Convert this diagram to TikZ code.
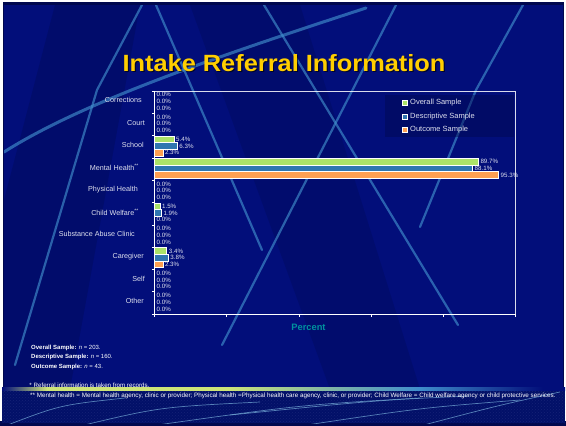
\documentclass[tikz,border=0pt]{standalone}
\usepackage[table]{xcolor}
\usepackage{tikz}
\usetikzlibrary{backgrounds,calc,patterns}
\usepackage{fontspec}
\setmainfont{Liberation Sans}
\newfontfamily\titlefont[FakeStretch=1.08]{Liberation Sans}

\definecolor{slideblue}{RGB}{2,14,122}
\definecolor{slidedark}{RGB}{0,8,78}
\definecolor{footblue}{RGB}{2,16,104}
\definecolor{streak}{RGB}{64,142,204}
\definecolor{titlegold}{RGB}{255,206,0}
\definecolor{barA}{RGB}{172,226,104}
\definecolor{barB}{RGB}{48,118,176}
\definecolor{barC}{RGB}{255,160,82}
\definecolor{labgray}{RGB}{222,224,238}
\definecolor{pctteal}{RGB}{0,146,158}
\definecolor{limeline}{RGB}{205,228,120}

\pgfdeclarehorizontalshading{footline}{100bp}{color(0bp)=(slideblue); color(25bp)=(slideblue); color(29bp)=(limeline); color(45bp)=(limeline); color(62bp)=(streak); color(73bp)=(slideblue); color(100bp)=(slideblue)}

\begin{document}
\begin{tikzpicture}[x=1pt,y=-1pt,
  catlabel/.style={anchor=east,text=labgray,font=\fontsize{7.2}{8}\selectfont,inner sep=0pt},
  vallabel/.style={anchor=west,text=labgray,font=\fontsize{6.2}{7}\selectfont,inner sep=0pt},
  legtext/.style={anchor=west,text=labgray,font=\fontsize{7.5}{8}\selectfont,inner sep=0pt},
  notetext/.style={anchor=west,text=white,font=\fontsize{6}{7}\selectfont,inner sep=0pt},
  barbox/.style={draw=white,line width=0.6pt},
  streakline/.style={draw=streak,line width=2.2pt,opacity=0.65,line cap=round},
  footstreak/.style={draw=streak!70!white,line width=0.7pt,opacity=0.7}]
\useasboundingbox (0,0) rectangle (566,426);
\fill[white] (0,0) rectangle (566,426);
\fill[slidedark] (3,2) rectangle (564,389);
\fill[slideblue] (4,5) rectangle (563,389);

\begin{scope}
\clip (4,5) rectangle (563,389);
\fill[black,opacity=0.12] (55,5) -- (140,5) -- (70,389) -- (4,389) -- (4,200) -- cycle;
\fill[black,opacity=0.10] (190,5) -- (300,5) -- (420,389) -- (330,389) -- cycle;
\draw[streakline,line width=3pt] (4,152) .. controls (80,104) and (200,62) .. (366,8);
\draw[streakline] (142,5) -- (97,90) -- (15,365);
\draw[streakline] (156,5) -- (262,250);
\draw[streakline] (264,5) -- (458,325);
\draw[streakline] (396,5) -- (222,345);
\draw[streakline] (523,5) -- (476,90) -- (420,227);
\end{scope}

\fill[slidedark] (0,421) rectangle (566,426);
\fill[footblue] (2,389) rectangle (565,423);
\begin{scope}
\clip (2,389) rectangle (565,423);
\fill[pattern=crosshatch dots,pattern color=slideblue!70!white,opacity=0.25] (2,389) rectangle (565,423);
\draw[footstreak] (5,426) .. controls (60,405) .. (125,398);
\draw[footstreak] (80,426) .. controls (160,407) .. (260,402);
\draw[footstreak] (150,426) .. controls (300,405) .. (420,398);
\draw[footstreak] (300,426) .. controls (420,408) .. (520,400);
\draw[footstreak] (420,426) .. controls (500,405) .. (560,392);
\draw[footstreak] (230,415) .. controls (380,400) .. (470,396);
\end{scope}
\shade[shading=footline] (2,387.8) rectangle (565,390.6);

\node[text=black,opacity=0.6,anchor=base,font=\fontsize{23.5}{25}\titlefont\bfseries] (titleshadow) at (285.2,72.9) {Intake Referral Information};
\node[text=titlegold,anchor=base,font=\fontsize{23.5}{25}\titlefont\bfseries] (title) at (284,71.7) {Intake Referral Information};

\fill[slidedark,opacity=0.45] (385,95) rectangle (514,137);
\foreach \lab/\col/\yy [count=\k] in {Overall Sample/barA/102.7,Descriptive Sample/barB/116.3,Outcome Sample/barC/129.3}
{
  \draw[white,fill=\col,line width=0.5pt] (402,\yy-2.5) rectangle (407,\yy+2.5);
  \node[legtext] (leg\k) at (410,\yy) {\lab};
}

\foreach \lab/\xe [count=\i from 0] in {Corrections/142,Court/145,School/144,Mental Health\textsuperscript{**}/139,Physical Health/138,Child Welfare\textsuperscript{**}/139,Substance Abuse Clinic/135,Caregiver/144,Self/145,Other/144}
  \node[catlabel] (cat\i) at (\xe,{91+22.3*\i+9.4}) {\lab};

\foreach \va/\vb/\vc [count=\i from 0] in {0.0/0.0/0.0,0.0/0.0/0.0,5.4/6.3/2.3,89.7/88.1/95.3,0.0/0.0/0.0,1.5/1.9/0.0,0.0/0.0/0.0,3.4/3.8/2.3,0.0/0.0/0.0,0.0/0.0/0.0}
{
  \foreach \v/\col [count=\j from 0] in {\va/barA,\vb/barB,\vc/barC}
  {
    \pgfmathsetmacro\yt{91+22.3*\i+0.4+6.7*\j}
    \ifdim \v pt>0pt
      \draw[barbox,fill=\col] (154.5,\yt) rectangle ({154.5+3.61*\v},\yt+6.6);
    \fi
    \node[vallabel] (val\i\j) at ({154.5+3.61*\v+2},\yt+3.4) {\v\%};
  }
}

\draw[white,opacity=0.85,line width=0.6pt] (154.5,91) -- (515.5,91) -- (515.5,314);
\draw[white,line width=0.7pt] (154.5,91) -- (154.5,314) -- (515.5,314);
\foreach \k in {0,...,10}
  \draw[white,line width=0.6pt] (152,91+22.3*\k) -- (154.5,91+22.3*\k);
\foreach \k in {0,...,5}
  \draw[white,line width=0.6pt] (154.5+72.2*\k,314) -- ++(0,2.5);

\node[text=pctteal,font=\fontsize{9.3}{10}\selectfont\bfseries] (xlabel) at (308.5,327.7) {Percent};

\node[notetext] (nOverall) at (31,347.7) {\textbf{Overall Sample:} \textit{n} = 203.};
\node[notetext] (nDescr) at (31,356.7) {\textbf{Descriptive Sample:} \textit{n} = 160.};
\node[notetext] (nOutcome) at (31,366.7) {\textbf{Outcome Sample:} \textit{n} = 43.};
\node[notetext,font=\fontsize{6.2}{7}\selectfont] (nRecords) at (29.3,385.3) {* Referral information is taken from records.};
\node[notetext,font=\fontsize{6.3}{7}\selectfont] (nDefs) at (30,396) {** Mental health = Mental health agency, clinic or provider; Physical health =Physical health care agency, clinic, or provider; Child Welfare = Child welfare agency or child protective services.};
\end{tikzpicture}
\end{document}
